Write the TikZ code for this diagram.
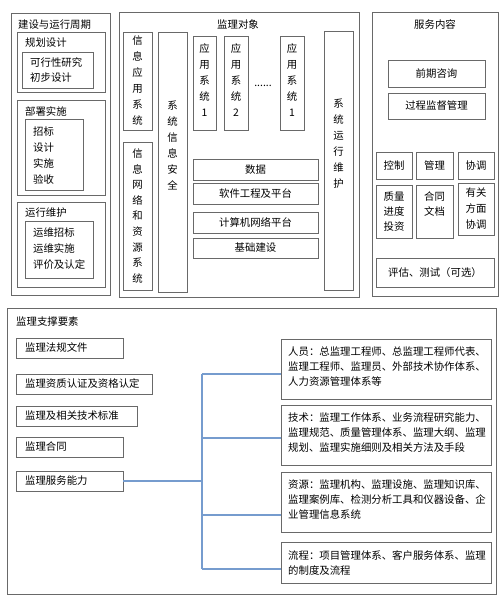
\documentclass[tikz,border=0pt]{standalone}
\usepackage{fontspec}
\setmainfont{Noto Sans CJK SC}
\definecolor{conncol}{RGB}{118,156,206}
\definecolor{linecol}{RGB}{105,105,105}
% box from (left,top) to (right,bottom), given in pixel units
\newcommand\bx[6][]{\node[box,#1,minimum width={(#5-#3)*1pt},minimum height={(#6-#4)*1pt}] (#2) at ({(#3+#5)/2},{(#4+#6)/2})}
\begin{document}
\begin{tikzpicture}[x=1pt,y=-1pt,
  box/.style={draw=linecol, line width=0.7pt, inner sep=0pt, font=\fontsize{10.4}{15}\selectfont, align=center},
  outer/.style={box, line width=0.9pt},
  txt/.style={inner sep=0pt, font=\fontsize{10.4}{15}\selectfont, align=left},
  vtxt/.style={inner sep=0pt, font=\fontsize{10.4}{16}\selectfont, align=center},
  conn/.style={draw=conncol, line width=1.1pt}]
\useasboundingbox[fill=white] (0,0) rectangle (500,595);

% ---------- column 1
\bx[outer]{c1}{11}{13}{110}{295} {};
\node[txt, anchor=west] (c1t) at (18,25) {建设与运行周期};
\bx{plan}{17}{32}{105}{92} {};
\node[txt, anchor=west] (plant) at (25,43) {规划设计};
\bx{plani}{22}{52}{93}{88} {};
\node[txt, anchor=west] (planit) at (30,70.5) {可行性研究\\初步设计};
\bx{dep}{17}{100}{105}{195} {};
\node[txt, anchor=west] (dept) at (25,112) {部署实施};
\bx{depi}{25}{119}{83}{190} {};
\node[vtxt, anchor=west, align=left] (depit) at (33,156) {招标\\设计\\实施\\验收};
\bx{ops}{17}{202}{105}{287} {};
\node[txt, anchor=west] (opst) at (25,213) {运行维护};
\bx{opsi}{25}{221}{93}{278} {};
\node[vtxt, anchor=west, align=left] (opsit) at (33,249) {运维招标\\运维实施\\评价及认定};

% ---------- column 2
\bx[outer]{c2}{119}{12}{359}{297} {};
\node[txt] (c2t) at (238,25) {监理对象};
\bx[font=\fontsize{10.4}{16}\selectfont]{xxyy}{123}{32}{152}{130} {信\\息\\应\\用\\系\\统};
\bx[font=\fontsize{10.4}{15.6}\selectfont]{xxwl}{123}{142}{152}{290} {信\\息\\网\\络\\和\\资\\源\\系\\统};
\bx{aq}{158}{32}{187}{292} {};
\node[vtxt] (aqt) at (172.5,145) {系\\统\\信\\息\\安\\全};
\bx{app1}{193}{36}{216}{130} {};
\node[vtxt] (app1t) at (204.5,80) {应\\用\\系\\统\\1};
\bx{app2}{224}{36}{248}{130} {};
\node[vtxt] (app2t) at (236,80) {应\\用\\系\\统\\2};
\bx{app3}{280}{36}{304}{130} {};
\node[vtxt] (app3t) at (292,80) {应\\用\\系\\统\\1};
\node[txt] (dots) at (263,86) {......};
\bx{yw}{324}{31}{353}{290} {};
\node[vtxt] (ywt) at (338.5,143.5) {系\\统\\运\\行\\维\\护};
\bx{data}{193}{159}{318}{180} {数据};
\bx{sw}{193}{183}{318}{204} {软件工程及平台};
\bx{net}{193}{212}{318}{233} {计算机网络平台};
\bx{jc}{193}{238}{318}{258} {基础建设};

% ---------- column 3
\bx[outer]{c3}{372}{12}{498}{296} {};
\node[txt] (c3t) at (435,25) {服务内容};
\bx{qq}{388}{60}{485}{87} {前期咨询};
\bx{gc}{388}{93}{485}{119} {过程监督管理};
\bx{kz}{376}{152}{412}{179} {控制};
\bx{gl}{416}{152}{453}{179} {管理};
\bx{xt}{458}{152}{494}{179} {协调};
\bx{zl}{376}{185}{412}{238} {质量\\进度\\投资};
\bx{ht}{416}{185}{453}{238} {};
\node[txt, align=center] (htt) at (434.5,204.5) {合同\\文档};
\bx[font=\fontsize{10.4}{16}\selectfont]{yg}{458}{183}{494}{235} {有关\\方面\\协调};
\bx{pg}{376}{258}{494}{287} {评估、测试（可选）};

% ---------- bottom
\bx[outer]{c4}{7}{308}{496}{594} {};
\node[txt, anchor=west] (c4t) at (16,322) {监理支撑要素};
\bx{f1}{16}{338}{123}{358} {};
\node[txt, anchor=west] (f1t) at (25,348) {监理法规文件};
\bx{f2}{16}{374}{152}{394} {};
\node[txt, anchor=west] (f2t) at (25,384) {监理资质认证及资格认定};
\bx{f3}{16}{406}{137}{426} {};
\node[txt, anchor=west] (f3t) at (25,416) {监理及相关技术标准};
\bx{f4}{16}{437}{123}{457} {};
\node[txt, anchor=west] (f4t) at (25,447) {监理合同};
\bx{f5}{16}{471}{123}{491} {};
\node[txt, anchor=west] (f5t) at (25,481) {监理服务能力};

\bx{r1}{281}{339}{491}{399} {};
\node[txt, anchor=west] (r1t) at (288,367) {人员：总监理工程师、总监理工程师代表、\\监理工程师、监理员、外部技术协作体系、\\人力资源管理体系等};
\bx{r2}{281}{405}{491}{465} {};
\node[txt, anchor=west] (r2t) at (288,433) {技术：监理工作体系、业务流程研究能力、\\监理规范、质量管理体系、监理大纲、监理\\规划、监理实施细则及相关方法及手段};
\bx{r3}{281}{472}{491}{532} {};
\node[txt, anchor=west] (r3t) at (288,500) {资源：监理机构、监理设施、监理知识库、\\监理案例库、检测分析工具和仪器设备、企\\业管理信息系统};
\bx{r4}{281}{542}{491}{583} {};
\node[txt, anchor=west] (r4t) at (288,562.5) {流程：项目管理体系、客户服务体系、监理\\的制度及流程};

% ---------- connectors
\coordinate (s1) at (202,374);
\coordinate (s2) at (202,438);
\coordinate (s3) at (202,515);
\coordinate (s4) at (202,569);
\draw[conn] (f5.east) -- (f5.east -| s1);
\draw[conn] (s1) -- (s4);
\draw[conn] (s1) -- (s1 -| r1.west);
\draw[conn] (s2) -- (s2 -| r2.west);
\draw[conn] (s3) -- (s3 -| r3.west);
\draw[conn] (s4) -- (s4 -| r4.west);
\end{tikzpicture}
\end{document}
